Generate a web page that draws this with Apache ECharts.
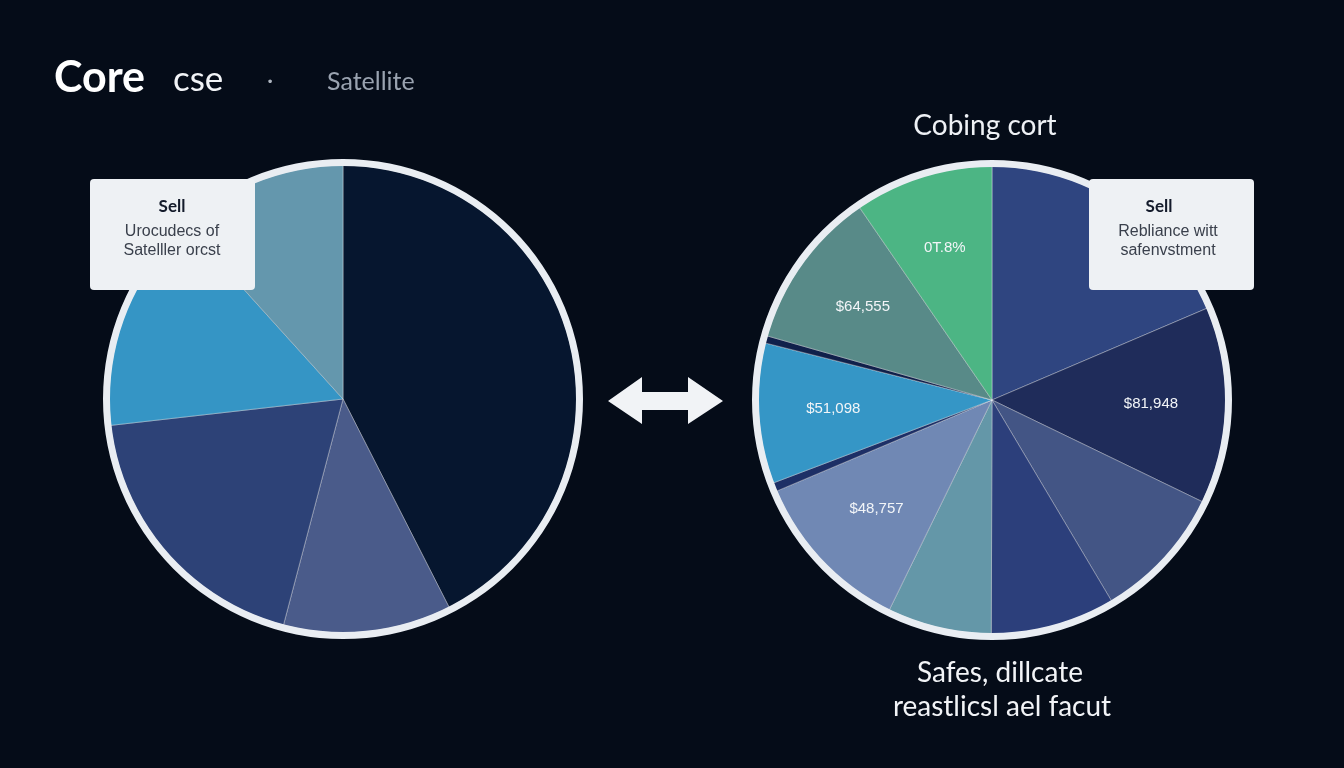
<!DOCTYPE html>
<html>
<head>
<meta charset="utf-8">
<script src="https://cdn.jsdelivr.net/npm/echarts@6/dist/echarts.min.js"></script>
<style>
  html, body { margin: 0; padding: 0; background: #050c18; }
  #chart { width: 1344px; height: 768px; }
</style>
</head>
<body>
<div id="chart"></div>
<script>
// core pie (clockwise from 12 o'clock)
var leftNames = ['Core', 'Bonds', 'Dividend', 'Growth', 'Satellite'];
var leftValues = [42.5, 11.6, 19.1, 15.1, 11.7];

// rebalanced pie (clockwise from 12 o'clock)
var rightNames = ['Core A', 'Core B', 'Bonds', 'Dividend', 'Income', 'Value', 'Gap 1', 'Tech', 'Gap 2', 'Thematic', 'Cash'];
var rightValues = [18.6, 13.6, 9.3, 8.6, 7.2, 11.4, 0.6, 9.7, 0.5, 11.0, 9.6];
var rightLabels = ['', '$81,948', '', '', '', '$48,757', '', '$51,098', '', '$64,555', '0T.8%'];

var leftColors = ['#06162f', '#4a5b8a', '#2d4277', '#3595c5', '#6497ad'];
var rightColors = ['#2f4580', '#1f2c5a', '#435585', '#2c3f7b', '#6497a8', '#7088b4',
                   '#1d2f66', '#3596c6', '#10204a', '#588a88', '#4cb584'];

var chart = echarts.init(document.getElementById('chart'));

function pieData(names, values, colors) {
    return values.map(function (v, i) {
        return { name: names[i], value: v, itemStyle: { color: colors[i] } };
    });
}

function ring(center) {
    return {
        type: 'pie', silent: true, center: center, radius: [233, 240],
        label: { show: false }, labelLine: { show: false },
        itemStyle: { color: '#e9edf2' },
        data: [{ name: 'ring', value: 1 }]
    };
}

var sliceBorder = { borderColor: 'rgba(255,255,255,0.45)', borderWidth: 0.8 };

var option = {
    backgroundColor: '#050c18',
    animation: false,
    series: [
        {
            type: 'pie', silent: true, center: [343, 399], radius: [0, 234],
            startAngle: 90, clockwise: true,
            label: { show: false }, labelLine: { show: false },
            itemStyle: sliceBorder,
            data: pieData(leftNames, leftValues, leftColors)
        },
        ring([343, 399]),
        {
            type: 'pie', silent: true, center: [992, 400], radius: [0, 234],
            startAngle: 90, clockwise: true,
            label: { show: false }, labelLine: { show: false },
            itemStyle: sliceBorder,
            data: pieData(rightNames, rightValues, rightColors)
        },
        ring([992, 400]),
        {
            // invisible twin, only to place the value labels further out
            type: 'pie', silent: true, center: [992, 400], radius: [80, 232],
            startAngle: 90, clockwise: true, avoidLabelOverlap: false,
            itemStyle: { color: 'rgba(0,0,0,0)' },
            label: {
                show: true, position: 'inside', color: '#f2f5f8',
                fontFamily: 'Liberation Sans', fontSize: 15,
                formatter: function (p) { return rightLabels[p.dataIndex]; }
            },
            labelLine: { show: false },
            data: rightValues.map(function (v, i) { return { name: rightNames[i], value: v }; })
        }
    ],
    graphic: [
        { type: 'text', z: 100, style: { text: 'Core', x: 54, y: 78, verticalAlign: 'middle',
            font: 'bold 43px Lato', fill: '#ffffff' } },
        { type: 'text', z: 100, style: { text: 'cse', x: 173, y: 80, verticalAlign: 'middle',
            font: '35px Lato', fill: '#f2f4f7' } },
        { type: 'text', z: 100, style: { text: '·', x: 270, y: 80, align: 'center', verticalAlign: 'middle',
            font: '24px Lato', fill: '#aeb5c0' } },
        { type: 'text', z: 100, style: { text: 'Satellite', x: 327, y: 82, verticalAlign: 'middle',
            font: '25px Lato', fill: '#9aa3b0' } },

        { type: 'text', z: 100, style: { text: 'Cobing cort', x: 985, y: 126, align: 'center', verticalAlign: 'middle',
            font: '28px Lato', fill: '#eef1f5' } },
        { type: 'text', z: 100, style: { text: 'Safes, dillcate', x: 1000, y: 673, align: 'center', verticalAlign: 'middle',
            font: '28px Lato', fill: '#f2f4f7' } },
        { type: 'text', z: 100, style: { text: 'reastlicsl ael facut', x: 1002, y: 707, align: 'center', verticalAlign: 'middle',
            font: '28px Lato', fill: '#f2f4f7' } },

        // double arrow
        { type: 'polygon', z: 100, shape: { points: [
            [608, 401], [642, 377], [642, 392], [688, 392], [688, 377], [723, 401],
            [688, 424], [688, 410], [642, 410], [642, 424]
        ] }, style: { fill: '#f1f3f6' } },

        // call-out boxes
        { type: 'rect', z: 100, shape: { x: 90, y: 179, width: 165, height: 111, r: 4 },
          style: { fill: '#eef1f4' } },
        { type: 'text', z: 101, style: { text: 'Sell', x: 172, y: 207, align: 'center', verticalAlign: 'middle',
            font: 'bold 17px Lato', fill: '#141b2b' } },
        { type: 'text', z: 101, style: { text: 'Urocudecs of\nSatelller orcst', x: 172, y: 241, align: 'center', verticalAlign: 'middle',
            font: '16px Liberation Sans', lineHeight: 19, fill: '#3a404c' } },

        { type: 'rect', z: 100, shape: { x: 1089, y: 179, width: 165, height: 111, r: 4 },
          style: { fill: '#eef1f4' } },
        { type: 'text', z: 101, style: { text: 'Sell', x: 1159, y: 207, align: 'center', verticalAlign: 'middle',
            font: 'bold 17px Lato', fill: '#141b2b' } },
        { type: 'text', z: 101, style: { text: 'Rebliance witt\nsafenvstment', x: 1168, y: 241, align: 'center', verticalAlign: 'middle',
            font: '16px Liberation Sans', lineHeight: 19, fill: '#3a404c' } }
    ]
};

chart.setOption(option);
window.addEventListener('resize', function () {
    chart.resize();
});
</script>
</body>
</html>
